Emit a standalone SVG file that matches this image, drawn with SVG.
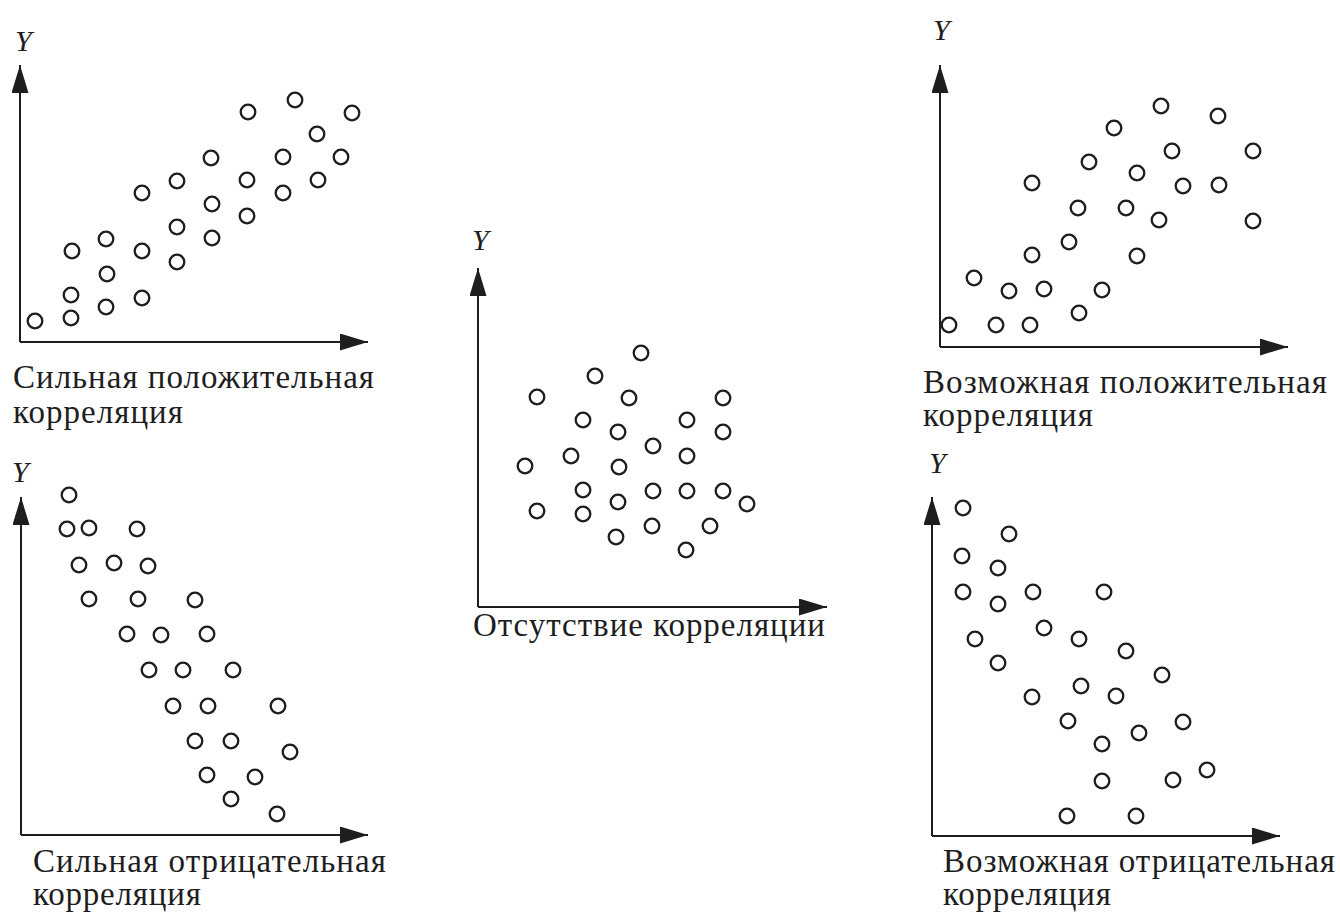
<svg xmlns="http://www.w3.org/2000/svg" width="1340" height="919" viewBox="0 0 1340 919">
<style>
.pt{fill:none;stroke:#1e1e1e;stroke-width:2.3}
.ax{fill:none;stroke:#1e1e1e;stroke-width:2;marker-end:url(#ah)}
.lb{font-family:"Liberation Serif","Times New Roman",serif;font-size:33px;fill:#1e1e1e}
.yl{font-family:"Liberation Serif","Times New Roman",serif;font-size:30px;font-style:italic;fill:#1e1e1e}
</style>
<defs>
<marker id="ah" markerUnits="userSpaceOnUse" markerWidth="28" markerHeight="17" viewBox="0 0 28 17" refX="28" refY="8.5" orient="auto">
<path d="M0,0 L28,8.5 L0,17 z" fill="#1e1e1e"/>
</marker>
</defs>
<rect width="1340" height="919" fill="#fff"/>

<g id="panel-strong-positive">
<text class="yl" x="15" y="51">Y</text>
<g id="axes-1">
<path class="ax" d="M20,342 L20,65"/>
<path class="ax" d="M20,342 L368,342"/>
</g>
<g class="pts">
<circle class="pt" cx="35" cy="321" r="7.3"/>
<circle class="pt" cx="71" cy="318" r="7.3"/>
<circle class="pt" cx="71" cy="295" r="7.3"/>
<circle class="pt" cx="72" cy="251" r="7.3"/>
<circle class="pt" cx="106" cy="239" r="7.3"/>
<circle class="pt" cx="107" cy="274" r="7.3"/>
<circle class="pt" cx="106" cy="307" r="7.3"/>
<circle class="pt" cx="142" cy="193" r="7.3"/>
<circle class="pt" cx="142" cy="251" r="7.3"/>
<circle class="pt" cx="142" cy="298" r="7.3"/>
<circle class="pt" cx="177" cy="181" r="7.3"/>
<circle class="pt" cx="177" cy="227" r="7.3"/>
<circle class="pt" cx="177" cy="262" r="7.3"/>
<circle class="pt" cx="211" cy="158" r="7.3"/>
<circle class="pt" cx="212" cy="204" r="7.3"/>
<circle class="pt" cx="212" cy="238" r="7.3"/>
<circle class="pt" cx="248" cy="112" r="7.3"/>
<circle class="pt" cx="247" cy="180" r="7.3"/>
<circle class="pt" cx="247" cy="216" r="7.3"/>
<circle class="pt" cx="295" cy="100" r="7.3"/>
<circle class="pt" cx="283" cy="157" r="7.3"/>
<circle class="pt" cx="283" cy="193" r="7.3"/>
<circle class="pt" cx="317" cy="134" r="7.3"/>
<circle class="pt" cx="341" cy="157" r="7.3"/>
<circle class="pt" cx="318" cy="180" r="7.3"/>
<circle class="pt" cx="352" cy="113" r="7.3"/>
</g>
<text class="lb" x="13" y="388" textLength="361" lengthAdjust="spacing">Сильная положительная</text>
<text class="lb" x="13" y="423" textLength="170" lengthAdjust="spacing">корреляция</text>
</g>

<g id="panel-strong-negative">
<text class="yl" x="12" y="482">Y</text>
<g id="axes-2">
<path class="ax" d="M21,835 L21,497"/>
<path class="ax" d="M21,835 L368,835"/>
</g>
<g class="pts">
<circle class="pt" cx="69" cy="495" r="7.3"/>
<circle class="pt" cx="67" cy="529" r="7.3"/>
<circle class="pt" cx="89" cy="528" r="7.3"/>
<circle class="pt" cx="137" cy="529" r="7.3"/>
<circle class="pt" cx="79" cy="565" r="7.3"/>
<circle class="pt" cx="114" cy="563" r="7.3"/>
<circle class="pt" cx="148" cy="566" r="7.3"/>
<circle class="pt" cx="89" cy="599" r="7.3"/>
<circle class="pt" cx="138" cy="599" r="7.3"/>
<circle class="pt" cx="195" cy="600" r="7.3"/>
<circle class="pt" cx="127" cy="634" r="7.3"/>
<circle class="pt" cx="161" cy="635" r="7.3"/>
<circle class="pt" cx="207" cy="634" r="7.3"/>
<circle class="pt" cx="149" cy="670" r="7.3"/>
<circle class="pt" cx="183" cy="670" r="7.3"/>
<circle class="pt" cx="233" cy="670" r="7.3"/>
<circle class="pt" cx="173" cy="706" r="7.3"/>
<circle class="pt" cx="208" cy="706" r="7.3"/>
<circle class="pt" cx="278" cy="706" r="7.3"/>
<circle class="pt" cx="195" cy="741" r="7.3"/>
<circle class="pt" cx="231" cy="741" r="7.3"/>
<circle class="pt" cx="290" cy="752" r="7.3"/>
<circle class="pt" cx="207" cy="775" r="7.3"/>
<circle class="pt" cx="255" cy="777" r="7.3"/>
<circle class="pt" cx="231" cy="799" r="7.3"/>
<circle class="pt" cx="277" cy="814" r="7.3"/>
</g>
<text class="lb" x="33" y="872" textLength="353" lengthAdjust="spacing">Сильная отрицательная</text>
<text class="lb" x="33" y="905" textLength="168" lengthAdjust="spacing">корреляция</text>
</g>

<g id="panel-no-correlation">
<text class="yl" x="472" y="250">Y</text>
<g id="axes-3">
<path class="ax" d="M478,607 L478,268"/>
<path class="ax" d="M478,607 L827,607"/>
</g>
<g class="pts">
<circle class="pt" cx="641" cy="353" r="7.3"/>
<circle class="pt" cx="595" cy="376" r="7.3"/>
<circle class="pt" cx="537" cy="397" r="7.3"/>
<circle class="pt" cx="629" cy="398" r="7.3"/>
<circle class="pt" cx="723" cy="398" r="7.3"/>
<circle class="pt" cx="583" cy="420" r="7.3"/>
<circle class="pt" cx="687" cy="420" r="7.3"/>
<circle class="pt" cx="618" cy="432" r="7.3"/>
<circle class="pt" cx="723" cy="432" r="7.3"/>
<circle class="pt" cx="653" cy="446" r="7.3"/>
<circle class="pt" cx="571" cy="456" r="7.3"/>
<circle class="pt" cx="687" cy="456" r="7.3"/>
<circle class="pt" cx="525" cy="466" r="7.3"/>
<circle class="pt" cx="619" cy="467" r="7.3"/>
<circle class="pt" cx="583" cy="490" r="7.3"/>
<circle class="pt" cx="653" cy="491" r="7.3"/>
<circle class="pt" cx="687" cy="491" r="7.3"/>
<circle class="pt" cx="723" cy="491" r="7.3"/>
<circle class="pt" cx="618" cy="502" r="7.3"/>
<circle class="pt" cx="747" cy="504" r="7.3"/>
<circle class="pt" cx="537" cy="511" r="7.3"/>
<circle class="pt" cx="583" cy="514" r="7.3"/>
<circle class="pt" cx="652" cy="526" r="7.3"/>
<circle class="pt" cx="710" cy="526" r="7.3"/>
<circle class="pt" cx="616" cy="537" r="7.3"/>
<circle class="pt" cx="686" cy="550" r="7.3"/>
</g>
<text class="lb" x="473" y="636" textLength="352" lengthAdjust="spacing">Отсутствие корреляции</text>
</g>

<g id="panel-possible-positive">
<text class="yl" x="933" y="40">Y</text>
<g id="axes-4">
<path class="ax" d="M940,347 L940,65"/>
<path class="ax" d="M940,347 L1288,347"/>
</g>
<g class="pts">
<circle class="pt" cx="949" cy="325" r="7.3"/>
<circle class="pt" cx="974" cy="278" r="7.3"/>
<circle class="pt" cx="996" cy="325" r="7.3"/>
<circle class="pt" cx="1030" cy="325" r="7.3"/>
<circle class="pt" cx="1009" cy="291" r="7.3"/>
<circle class="pt" cx="1044" cy="289" r="7.3"/>
<circle class="pt" cx="1032" cy="255" r="7.3"/>
<circle class="pt" cx="1079" cy="313" r="7.3"/>
<circle class="pt" cx="1102" cy="290" r="7.3"/>
<circle class="pt" cx="1069" cy="242" r="7.3"/>
<circle class="pt" cx="1032" cy="183" r="7.3"/>
<circle class="pt" cx="1078" cy="208" r="7.3"/>
<circle class="pt" cx="1089" cy="162" r="7.3"/>
<circle class="pt" cx="1114" cy="128" r="7.3"/>
<circle class="pt" cx="1137" cy="256" r="7.3"/>
<circle class="pt" cx="1126" cy="208" r="7.3"/>
<circle class="pt" cx="1137" cy="173" r="7.3"/>
<circle class="pt" cx="1159" cy="220" r="7.3"/>
<circle class="pt" cx="1161" cy="106" r="7.3"/>
<circle class="pt" cx="1172" cy="151" r="7.3"/>
<circle class="pt" cx="1183" cy="186" r="7.3"/>
<circle class="pt" cx="1218" cy="116" r="7.3"/>
<circle class="pt" cx="1219" cy="185" r="7.3"/>
<circle class="pt" cx="1253" cy="151" r="7.3"/>
<circle class="pt" cx="1253" cy="221" r="7.3"/>
</g>
<text class="lb" x="923" y="393" textLength="404" lengthAdjust="spacing">Возможная положительная</text>
<text class="lb" x="923" y="426" textLength="170" lengthAdjust="spacing">корреляция</text>
</g>

<g id="panel-possible-negative">
<text class="yl" x="929" y="473">Y</text>
<g id="axes-5">
<path class="ax" d="M932,836 L932,497"/>
<path class="ax" d="M932,836 L1280,836"/>
</g>
<g class="pts">
<circle class="pt" cx="963" cy="508" r="7.3"/>
<circle class="pt" cx="1009" cy="534" r="7.3"/>
<circle class="pt" cx="962" cy="556" r="7.3"/>
<circle class="pt" cx="998" cy="568" r="7.3"/>
<circle class="pt" cx="963" cy="592" r="7.3"/>
<circle class="pt" cx="1033" cy="592" r="7.3"/>
<circle class="pt" cx="1104" cy="592" r="7.3"/>
<circle class="pt" cx="998" cy="604" r="7.3"/>
<circle class="pt" cx="1044" cy="628" r="7.3"/>
<circle class="pt" cx="1079" cy="639" r="7.3"/>
<circle class="pt" cx="975" cy="639" r="7.3"/>
<circle class="pt" cx="1126" cy="651" r="7.3"/>
<circle class="pt" cx="998" cy="663" r="7.3"/>
<circle class="pt" cx="1162" cy="675" r="7.3"/>
<circle class="pt" cx="1081" cy="686" r="7.3"/>
<circle class="pt" cx="1116" cy="696" r="7.3"/>
<circle class="pt" cx="1032" cy="697" r="7.3"/>
<circle class="pt" cx="1068" cy="721" r="7.3"/>
<circle class="pt" cx="1183" cy="722" r="7.3"/>
<circle class="pt" cx="1139" cy="733" r="7.3"/>
<circle class="pt" cx="1102" cy="744" r="7.3"/>
<circle class="pt" cx="1207" cy="770" r="7.3"/>
<circle class="pt" cx="1102" cy="781" r="7.3"/>
<circle class="pt" cx="1173" cy="780" r="7.3"/>
<circle class="pt" cx="1067" cy="816" r="7.3"/>
<circle class="pt" cx="1136" cy="816" r="7.3"/>
</g>
<text class="lb" x="943" y="872" textLength="392" lengthAdjust="spacing">Возможная отрицательная</text>
<text class="lb" x="943" y="905" textLength="168" lengthAdjust="spacing">корреляция</text>
</g>
</svg>
